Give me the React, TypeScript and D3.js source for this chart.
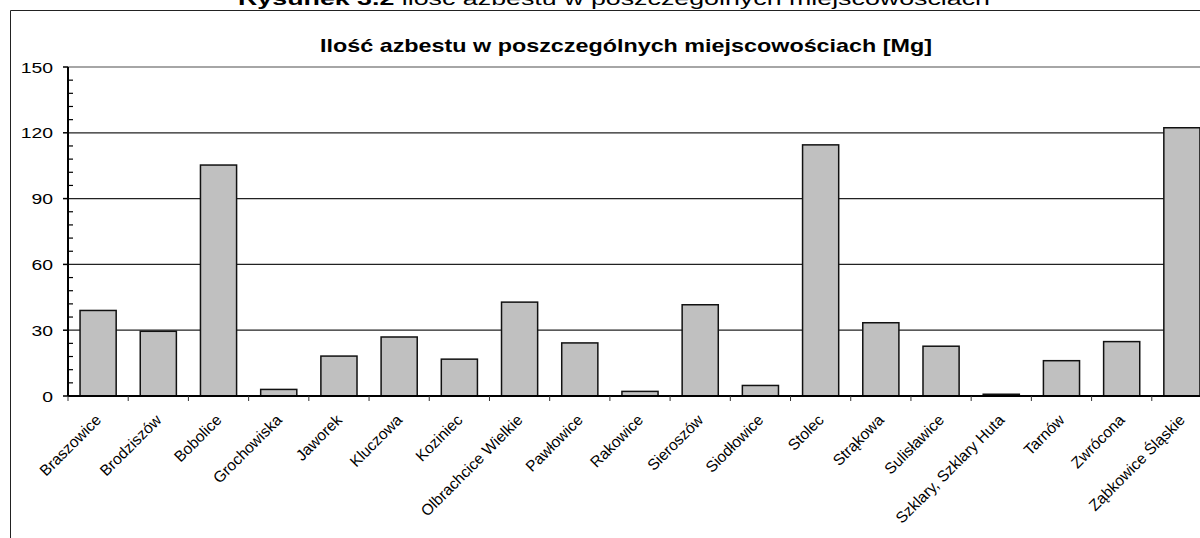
import React from 'react';
import * as d3 from 'd3';

// miejscowości i ilość azbestu [Mg]
const places = [
  'Braszowice', 'Brodziszów', 'Bobolice', 'Grochowiska', 'Jaworek', 'Kluczowa',
  'Koziniec', 'Olbrachcice Wielkie', 'Pawłowice', 'Rakowice', 'Sieroszów',
  'Siodłowice', 'Stolec', 'Strąkowa', 'Sulisławice', 'Szklary, Szklary Huta',
  'Tarnów', 'Zwrócona', 'Ząbkowice Śląskie',
];
const asbestos = [
  39, 29.5, 105.3, 3, 18.2, 26.9, 16.8, 42.8, 24.2, 2.1, 41.6, 4.8, 114.5,
  33.4, 22.7, 0.8, 16.1, 24.8, 122.3,
];
const yTicks = [0, 30, 60, 90, 120, 150];
const minorTicks = d3.range(0, 150, 6);

const caption = 'Rysunek 3.2';
const captionRest = ' ilość azbestu w poszczególnych miejscowościach';
const title = 'Ilość azbestu w poszczególnych miejscowościach [Mg]';

const W = 1200;
const H = 538;
const left = 68, right = 1212, top = 67, bottom = 396;
const font = 'Liberation Sans, Arial, sans-serif';

export default function App() {
  const x = d3.scaleBand<string>()
    .domain(places)
    .range([left, right])
    .paddingInner(0.4)
    .paddingOuter(0.2);
  const y = d3.scaleLinear().domain([0, 150]).range([bottom, top]);
  const step = x.step();
  const bounds = d3.range(places.length + 1).map(i => left + i * step);

  return (
    <svg width={W} height={H} style={{ position: 'absolute', left: 0, top: 0, background: '#fff' }}
      fontFamily={font}>
      <rect x={0} y={0} width={W} height={H} fill="#fff" />
      {/* podpis rysunku, ucięty u góry */}
      <text x={614} y={5} textAnchor="middle" fontSize={19} textLength={752} lengthAdjust="spacingAndGlyphs">
        <tspan fontWeight="bold">{caption}</tspan>
        <tspan>{captionRest}</tspan>
      </text>
      {/* ramka wykresu */}
      <path d={`M10.5,${H} V10.5 H${W}`} fill="none" stroke="#222" strokeWidth={1} />
      <text x={626} y={52} textAnchor="middle" fontSize={19} fontWeight="bold"
        textLength={612} lengthAdjust="spacingAndGlyphs">{title}</text>

      {/* siatka */}
      {yTicks.filter(t => t > 0).map(t => (
        <line key={t} x1={left} x2={right} y1={y(t)} y2={y(t)}
          stroke={t === 150 ? '#888' : '#222'} strokeWidth={1.3} />
      ))}

      {/* słupki */}
      {places.map((p, i) => (
        <rect key={p} x={x(p)} y={y(asbestos[i])} width={x.bandwidth()}
          height={y(0) - y(asbestos[i])} fill="#c0c0c0" stroke="#111" strokeWidth={1.5} />
      ))}

      {/* oś Y */}
      <line x1={left} x2={left} y1={top} y2={bottom} stroke="#000" strokeWidth={2} />
      {yTicks.map(t => (
        <g key={t}>
          <line x1={left - 5} x2={left} y1={y(t)} y2={y(t)} stroke="#000" strokeWidth={1.5} />
          <text transform={`translate(53,${y(t) + 5.5}) scale(1.25,1)`} textAnchor="end" fontSize={15.5}>{t}</text>
        </g>
      ))}
      {minorTicks.filter(t => t % 30 !== 0).map(t => (
        <line key={t} x1={left} x2={left + 5} y1={y(t)} y2={y(t)} stroke="#000" strokeWidth={1.2} />
      ))}

      {/* oś X */}
      <line x1={left} x2={right} y1={bottom} y2={bottom} stroke="#000" strokeWidth={2} />
      {bounds.map((b, i) => (
        <line key={i} x1={b} x2={b} y1={bottom} y2={bottom + 5} stroke="#333" strokeWidth={1} />
      ))}
      {places.map(p => {
        const cx = (x(p) ?? 0) + x.bandwidth() / 2;
        return (
          <text key={p} transform={`translate(${cx + 4},${bottom + 25}) rotate(-45)`}
            textAnchor="end" fontSize={15.5}>{p}</text>
        );
      })}
    </svg>
  );
}
